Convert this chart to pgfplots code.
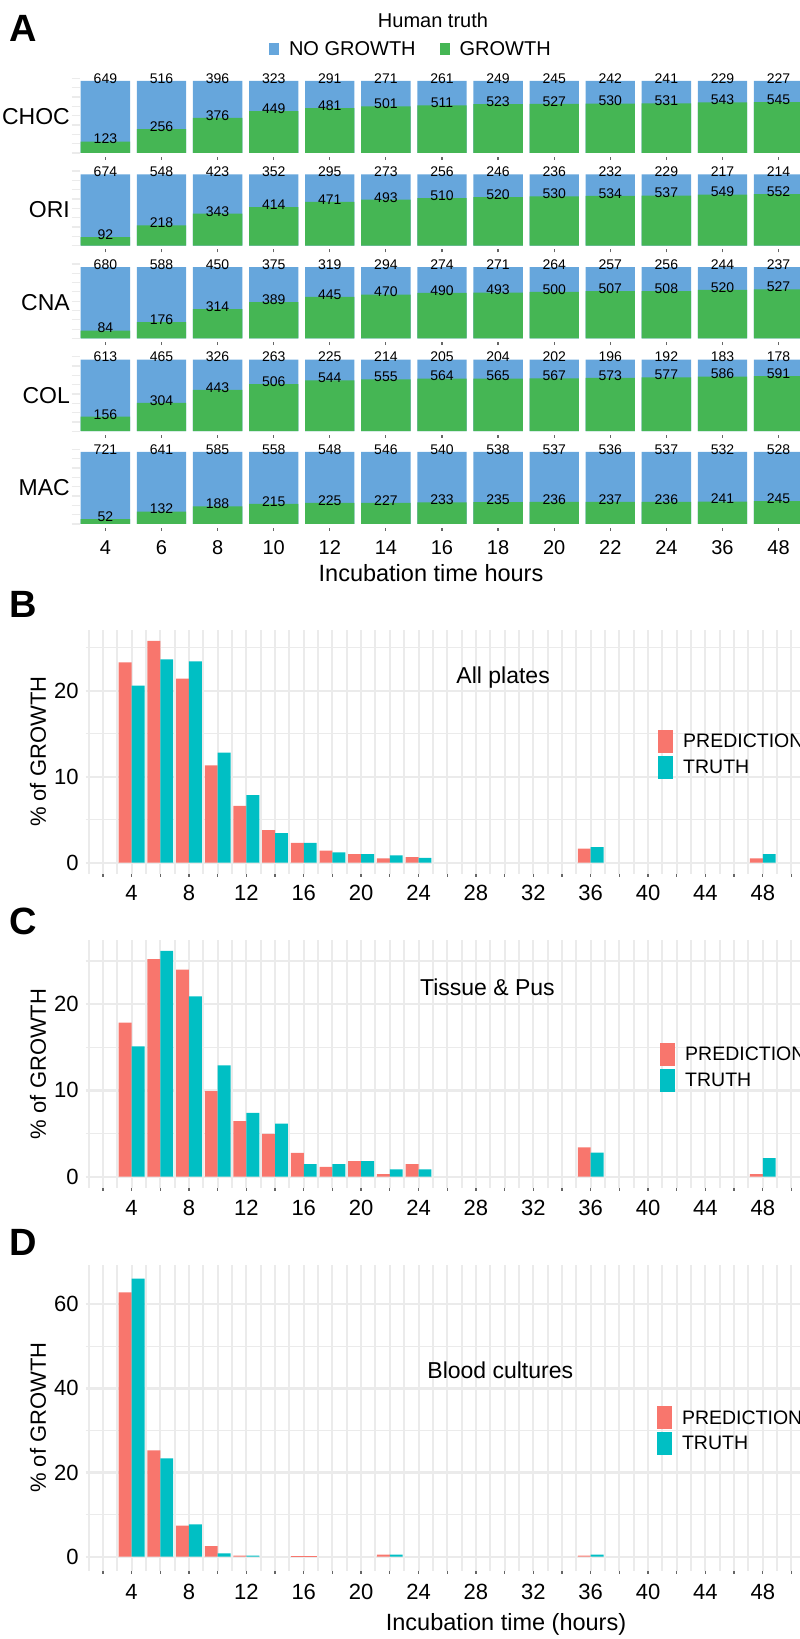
\documentclass[border=0pt]{standalone}
\usepackage{fontspec}
\setmainfont{Liberation Sans}
\usepackage{pgfplots}
\usepackage{pgfplotstable}
\pgfplotsset{compat=1.18}
\pgfplotsset{/pgf/number format/assume math mode=true}
\newcommand\fs[1]{\fontsize{#1bp}{#1bp}\selectfont}
\definecolor{ablue}{HTML}{66A6DC}
\definecolor{agreen}{HTML}{45B654}
\definecolor{pred}{HTML}{F8766D}
\definecolor{truth}{HTML}{00BFC4}
\definecolor{gridc}{HTML}{EBEBEB}

% ---------- Panel A data ----------
\pgfplotstableread{
x ng g
1 649 123
2 516 256
3 396 376
4 323 449
5 291 481
6 271 501
7 261 511
8 249 523
9 245 527
10 242 530
11 241 531
12 229 543
13 227 545
}\tchoc
\pgfplotstableread{
x ng g
1 674 92
2 548 218
3 423 343
4 352 414
5 295 471
6 273 493
7 256 510
8 246 520
9 236 530
10 232 534
11 229 537
12 217 549
13 214 552
}\tori
\pgfplotstableread{
x ng g
1 680 84
2 588 176
3 450 314
4 375 389
5 319 445
6 294 470
7 274 490
8 271 493
9 264 500
10 257 507
11 256 508
12 244 520
13 237 527
}\tcna
\pgfplotstableread{
x ng g
1 613 156
2 465 304
3 326 443
4 263 506
5 225 544
6 214 555
7 205 564
8 204 565
9 202 567
10 196 573
11 192 577
12 183 586
13 178 591
}\tcol
\pgfplotstableread{
x ng g
1 721 52
2 641 132
3 585 188
4 558 215
5 548 225
6 546 227
7 540 233
8 538 235
9 537 236
10 536 237
11 537 236
12 532 241
13 528 245
}\tmac

% ---------- Panels B, C, D data ----------
\pgfplotstableread{
h p t
4 23.3 20.6
6 25.8 23.65
8 21.4 23.4
10 11.3 12.8
12 6.6 7.85
14 3.8 3.45
16 2.3 2.3
18 1.4 1.2
20 1.0 1.0
22 0.5 0.85
24 0.65 0.55
36 1.65 1.8
48 0.5 1.0
}\tabB
\pgfplotstableread{
h p t
4 17.85 15.1
6 25.2 26.15
8 24.0 20.9
10 9.9 12.9
12 6.45 7.4
14 4.95 6.15
16 2.75 1.45
18 1.15 1.45
20 1.8 1.8
22 0.3 0.85
24 1.45 0.85
36 3.4 2.8
48 0.3 2.15
}\tabC
\pgfplotstableread{
h p t
4 62.8 66.1
6 25.3 23.4
8 7.4 7.7
10 2.5 0.8
12 0.25 0.25
22 0.5 0.5
36 0.25 0.5
}\tabD
\pgfplotstableread{
h p
16 0.25
}\tabDs

\pgfplotsset{
  rowA/.style={
    scale only axis, width=740.5bp, height=79.3bp,
    xmin=0.4, xmax=13.6, ymin=-38.65, ymax=811.65,
    axis x line*=bottom, axis y line*=left, axis line style={draw=none},
    xtick={1,...,13}, xticklabels={}, ytick=\empty,
    tick align=outside, major tick length=3bp,
    x tick style={black!60, line width=1.2bp},
    clip=false,
    xticklabel style={anchor=center, inner sep=0pt, yshift=-17.4bp, font=\fs{20}},
  },
  barA/.style={ybar, bar width=0.88, bar shift=0pt, draw=none, fill=#1,
    nodes near coords, point meta=explicit symbolic,
    every node near coord/.append style={font=\fs{14}, anchor=center, yshift=2.5bp, inner sep=0pt, text=black},
    legend image code/.code={\fill[#1] (0bp,-6bp) rectangle (10bp,6bp);}},
  bcd/.style={
    scale only axis, width=723bp,
    xmin=0.8, xmax=51.2,
    axis x line*=bottom, axis y line*=left, axis line style={draw=none},
    xtick={2,4,...,50},
    xticklabels={{},4,{},8,{},12,{},16,{},20,{},24,{},28,{},32,{},36,{},40,{},44,{},48,{}},
    minor xtick={1,3,...,51},
    tick align=outside, major tick length=3bp, minor tick length=0pt,
    x tick style={black!60, line width=1.3bp}, y tick style={draw=none},
    grid=both,
    major x grid style={gridc, line width=2bp},
    minor x grid style={gridc, line width=2bp},
    major y grid style={gridc, line width=2.3bp},
    minor y grid style={gridc, line width=1.3bp},
    xticklabel style={anchor=center, inner sep=0pt, font=\fs{22}},
    yticklabel style={anchor=east, inner sep=0pt, xshift=-4bp, font=\fs{22}},
    legend style={anchor=west, draw=none, fill=none, inner sep=0pt, row sep=3bp,
      column sep=8bp, font=\fs{19.5}},
    legend cell align=left,
  },
  barP/.style={ybar, bar width=0.9, bar shift=-0.45, fill=pred, draw=none,
    legend image code/.code={\fill[pred] (0bp,-11.5bp) rectangle (15bp,11.5bp);}},
  barT/.style={ybar, bar width=0.9, bar shift=0.45, fill=truth, draw=none,
    legend image code/.code={\fill[truth] (0bp,-11.5bp) rectangle (15bp,11.5bp);}},
}

\newcommand\gridstubs{%
  \pgfplotsinvokeforeach{0,100,200,300,400,500,600,700,800}{%
    \draw[gridc, line width=1.3bp] (axis cs:0.4,##1) -- (axis cs:0.555,##1);}%
}

\begin{document}
\begin{tikzpicture}
\useasboundingbox (0bp,0bp) rectangle (800bp,1639bp);
\clip (0bp,0bp) rectangle (800bp,1639bp);

% ===== Panel A =====
\node[anchor=west, inner sep=0pt, font=\bfseries\fs{38}] at (9bp,1610.5bp) {A};
\node[font=\fs{20}] at (433bp,1619bp) {Human truth};

\begin{axis}[rowA, at={(71.74bp,1482.4bp)}, anchor=south west,
  legend columns=2,
  legend style={at={(0.458,1.357)}, anchor=center, draw=none, fill=none,
    inner sep=0pt, column sep=8bp, font=\fs{20}}]
\gridstubs
\addplot[barA=ablue] table[x=x, y expr=\thisrow{ng}+\thisrow{g}, meta=ng] {\tchoc};
\addlegendentry{NO GROWTH\hspace*{14bp}}
\addplot[barA=agreen] table[x=x, y=g, meta=g] {\tchoc};
\addlegendentry{GROWTH}
\end{axis}

\begin{axis}[rowA, at={(71.74bp,1389.65bp)}, anchor=south west]
\gridstubs
\addplot[barA=ablue] table[x=x, y expr=\thisrow{ng}+\thisrow{g}, meta=ng] {\tori};
\addplot[barA=agreen] table[x=x, y=g, meta=g] {\tori};
\end{axis}

\begin{axis}[rowA, at={(71.74bp,1296.9bp)}, anchor=south west]
\gridstubs
\addplot[barA=ablue] table[x=x, y expr=\thisrow{ng}+\thisrow{g}, meta=ng] {\tcna};
\addplot[barA=agreen] table[x=x, y=g, meta=g] {\tcna};
\end{axis}

\begin{axis}[rowA, at={(71.74bp,1204.15bp)}, anchor=south west]
\gridstubs
\addplot[barA=ablue] table[x=x, y expr=\thisrow{ng}+\thisrow{g}, meta=ng] {\tcol};
\addplot[barA=agreen] table[x=x, y=g, meta=g] {\tcol};
\end{axis}

\begin{axis}[rowA, at={(71.74bp,1111.4bp)}, anchor=south west,
  xticklabels={4,6,8,10,12,14,16,18,20,22,24,36,48}]
\gridstubs
\addplot[barA=ablue] table[x=x, y expr=\thisrow{ng}+\thisrow{g}, meta=ng] {\tmac};
\addplot[barA=agreen] table[x=x, y=g, meta=g] {\tmac};
\end{axis}

\node[anchor=east, inner sep=0pt, font=\fs{23}] at (70bp,1522bp) {CHOC};
\node[anchor=east, inner sep=0pt, font=\fs{23}] at (70bp,1429.25bp) {ORI};
\node[anchor=east, inner sep=0pt, font=\fs{23}] at (70bp,1336.5bp) {CNA};
\node[anchor=east, inner sep=0pt, font=\fs{23}] at (70bp,1243.75bp) {COL};
\node[anchor=east, inner sep=0pt, font=\fs{23}] at (70bp,1151bp) {MAC};
\node[font=\fs{23.5}] at (431bp,1066.3bp) {Incubation time hours};

% ===== Panel B =====
\node[anchor=west, inner sep=0pt, font=\bfseries\fs{38}] at (9bp,1035bp) {B};
\begin{axis}[bcd, at={(85.7bp,765.2bp)}, anchor=south west, height=244.1bp,
  ymin=-1.29, ymax=27.09, ytick={0,10,20}, minor ytick={5,15,25},
  xticklabel style={yshift=-16.2bp},
  legend style={at={(0.7916,0.4887)}}]
\addplot[barP] table[x=h, y=p] {\tabB};
\addlegendentry{PREDICTION}
\addplot[barT] table[x=h, y=t] {\tabB};
\addlegendentry{TRUTH}
\node[font=\fs{23}] at (axis cs:29.9,21.5) {All plates};
\end{axis}
\node[rotate=90, font=\fs{22}] at (38bp,887.2bp) {\% of GROWTH};

% ===== Panel C =====
\node[anchor=west, inner sep=0pt, font=\bfseries\fs{38}] at (9bp,718bp) {C};
\begin{axis}[bcd, at={(85.7bp,451bp)}, anchor=south west, height=248.3bp,
  ymin=-1.31, ymax=27.46, ytick={0,10,20}, minor ytick={5,15,25},
  xticklabel style={yshift=-17bp},
  legend style={at={(0.7943,0.4853)}}]
\addplot[barP] table[x=h, y=p] {\tabC};
\addlegendentry{PREDICTION}
\addplot[barT] table[x=h, y=t] {\tabC};
\addlegendentry{TRUTH}
\node[font=\fs{23}] at (axis cs:28.8,21.9) {Tissue \& Pus};
\end{axis}
\node[rotate=90, font=\fs{22}] at (38bp,575.15bp) {\% of GROWTH};

% ===== Panel D =====
\node[anchor=west, inner sep=0pt, font=\bfseries\fs{38}] at (9bp,397bp) {D};
\begin{axis}[bcd, at={(85.7bp,68.4bp)}, anchor=south west, height=305.9bp,
  ymin=-3.3, ymax=69.4, ytick={0,20,40,60}, minor ytick={10,30,50},
  xticklabel style={yshift=-18.7bp},
  legend style={at={(0.790,0.4564)}}]
\addplot[barP] table[x=h, y=p] {\tabD};
\addlegendentry{PREDICTION}
\addplot[barT] table[x=h, y=t] {\tabD};
\addlegendentry{TRUTH}
\addplot[ybar, bar width=1.8, bar shift=0, fill=pred, draw=none, forget plot] table[x=h, y=p] {\tabDs};
\node[font=\fs{23}] at (axis cs:29.7,44.4) {Blood cultures};
\end{axis}
\node[rotate=90, font=\fs{22}] at (38bp,221.35bp) {\% of GROWTH};
\node[font=\fs{23.5}] at (506bp,14.7bp) {Incubation time (hours)};

\end{tikzpicture}
\end{document}
